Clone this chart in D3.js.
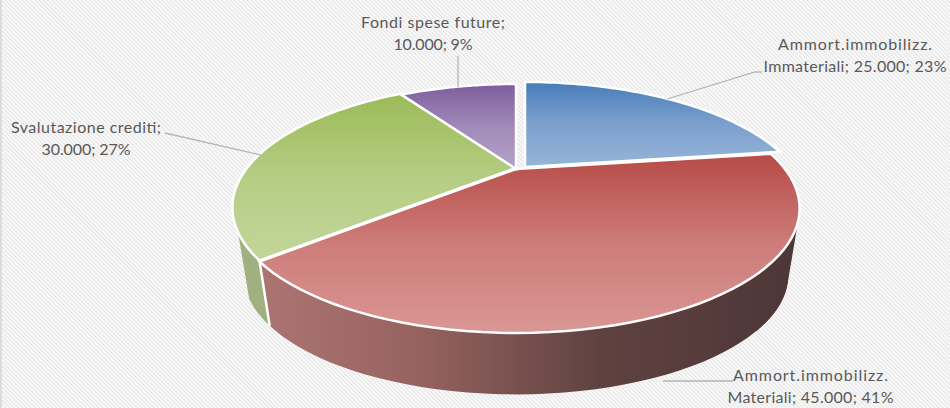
<!DOCTYPE html>
<html><head><meta charset="utf-8">
<style>html,body{margin:0;padding:0;background:#fff}svg{display:block}text{font-family:Lato,"Open Sans",sans-serif;font-size:16px;fill:#595959}</style>
<script src="https://cdn.jsdelivr.net/npm/d3@7/dist/d3.min.js"></script></head><body>
<script>
const categories = ["Ammort.immobilizz. Immateriali","Ammort.immobilizz. Materiali","Svalutazione crediti","Fondi spese future"];
const values = [25000,45000,30000,10000];
const labelLines = [["Ammort.immobilizz.","Immateriali; 25.000; 23%"],["Ammort.immobilizz.","Materiali; 45.000; 41%"],["Svalutazione crediti;","30.000; 27%"],["Fondi spese future;","10.000; 9%"]];
const labelWidths = [[154,183],[155,166],[150,89],[144,79]];
const topColors = [["#4a7ebb","#95b3d7"],["#b84c48","#d99694"],["#9bbb59","#c3d69b"],["#7f5f9f","#b3a2c7"]];
const W=950,H=408,cx=516,cy=168,rx=269,ry=112,k=0.317,depth=69,sc=0.96;
const offsets=[[9,-1],[0,1],[0,0],[0,1]];
const svg=d3.select("body").append("svg").attr("width",W).attr("height",H);
const defs=svg.append("defs");
const pat=defs.append("pattern").attr("id","hatch").attr("width",3).attr("height",3).attr("patternUnits","userSpaceOnUse").attr("patternTransform","rotate(-45)");
pat.append("rect").attr("width",3).attr("height",3).attr("fill","#fbfbfb");
pat.append("rect").attr("width",1.2).attr("height",3).attr("fill","#e4e4e4");
svg.append("rect").attr("width",W).attr("height",H).attr("fill","url(#hatch)");
svg.append("rect").attr("width",2).attr("height",H).attr("fill","#dcdcdc");
topColors.forEach((c,i)=>{const g=defs.append("linearGradient").attr("id","t"+i).attr("gradientUnits","userSpaceOnUse").attr("x1",0).attr("x2",0).attr("y1",[85,155,95,85][i]).attr("y2",[165,330,262,168][i]);
 g.append("stop").attr("offset",0).attr("stop-color",c[0]);
 g.append("stop").attr("offset",0.5).attr("stop-color",d3.interpolateRgb(c[0],c[1])(0.65));
 g.append("stop").attr("offset",1).attr("stop-color",c[1]);});
const wg=defs.append("linearGradient").attr("id","wall").attr("gradientUnits","userSpaceOnUse").attr("x1",265).attr("x2",780).attr("y1",0).attr("y2",0);
[[0,"#ab7472"],[0.3,"#96625f"],[0.65,"#5f4240"],[1,"#4f3738"]].forEach(s=>wg.append("stop").attr("offset",s[0]).attr("stop-color",s[1]));
const proj=(a)=>{const u=Math.sin(a),v=-Math.cos(a),d=1-k*v;return [rx*u/d,ry*v/d];};
const upper=(a)=>{const p=proj(a);return [cx+p[0],cy+p[1]];};
const lower=(a)=>{const p=proj(a);return [cx+p[0]*sc,cy+p[1]*sc+depth];};
const line=d3.line();
const arcs=d3.pie().sort(null)(values);
const samples=(a,b)=>d3.range(0,61).map(i=>a+(b-a)*i/60);
const wallsG=svg.append("g").attr("stroke","#fff").attr("stroke-width",2.5);
const greenEnd=241*Math.PI/180;
const g0=arcs[2];
const gs=samples(g0.startAngle,greenEnd);
wallsG.append("path").attr("d",line([...gs.map(upper),...gs.slice().reverse().map(lower)])+"Z").attr("fill","#a0b17f").attr("stroke","none");
const r0=arcs[1];
const rs=samples(r0.startAngle,r0.endAngle);
const sideArc=samples(r0.startAngle,r0.startAngle+0.9);
wallsG.append("path").attr("d",line(d3.polygonHull([...sideArc.map(upper),...sideArc.map(lower)]))+"Z").attr("fill","url(#wall)").attr("stroke","none");
wallsG.append("path").attr("d",line([...rs.map(upper),...rs.slice().reverse().map(lower)])+"Z").attr("fill","url(#wall)").attr("stroke","none");
wallsG.append("path").attr("d",line([upper(r0.endAngle),lower(r0.endAngle)])).attr("fill","none");
arcs.forEach((d,i)=>{
 const pts=[[cx,cy],...samples(d.startAngle,d.endAngle).map(upper)];
 svg.append("path").attr("transform",`translate(${offsets[i]})`).attr("d",line(pts)+"Z").attr("fill",`url(#t${i})`).attr("stroke","#fff").attr("stroke-width",2.5);
});
const leaders=[[[667,99],[755,72],[762,72]],[[663,381],[733,381]],[[261,155],[165,133]],[[458,87],[458,56]]];
svg.append("g").selectAll("path").data(leaders).join("path").attr("d",d=>line(d)).attr("fill","none").attr("stroke","#b5b5b5").attr("stroke-width",1.3);
const labelPos=[[855,50],[810.5,381],[86,133],[433,28]];
labelLines.forEach((ls,i)=>{
 const t=svg.append("text").attr("text-anchor","middle");
 ls.forEach((s,j)=>t.append("tspan").attr("x",labelPos[i][0]).attr("y",labelPos[i][1]+j*22).attr("textLength",labelWidths[i][j]).attr("lengthAdjust","spacing").text(s));
});
</script></body></html>
